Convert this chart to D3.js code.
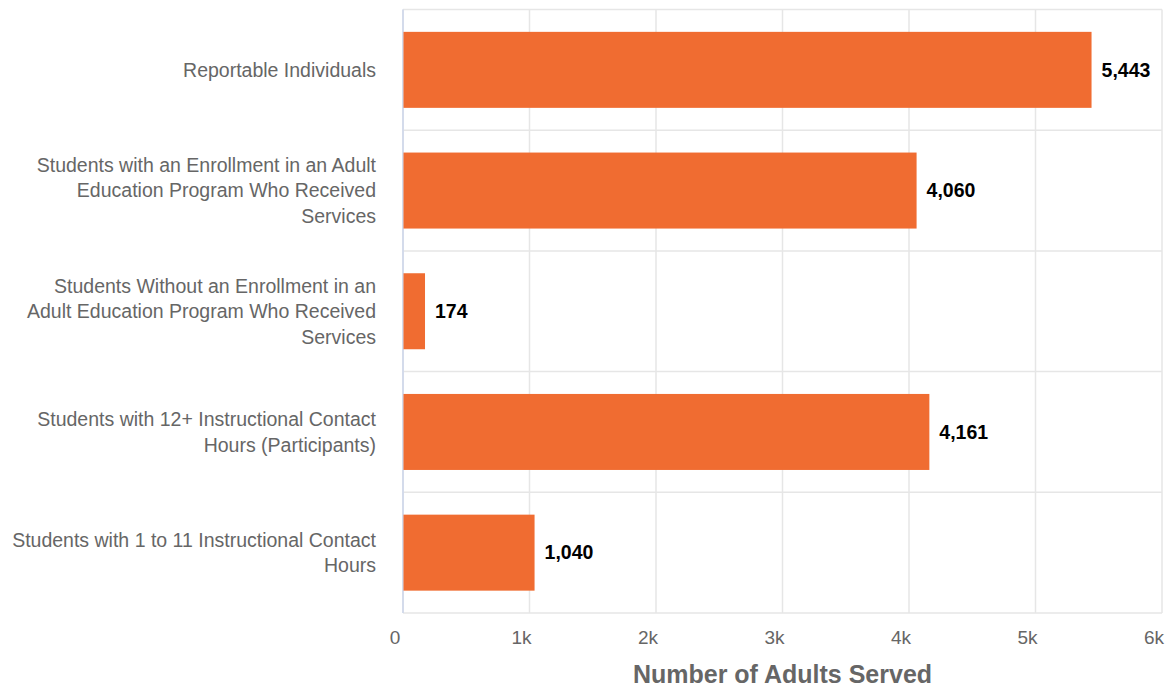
<!DOCTYPE html>
<html>
<head>
<meta charset="utf-8">
<script src="https://cdn.jsdelivr.net/npm/d3@7"></script>
<style>
  body { margin: 0; background: #fff; }
  text { font-family: "Liberation Sans", Arial, Helvetica, sans-serif; }
</style>
</head>
<body>
<div id="chart"></div>
<script>
// data
var categories = [
    "Reportable Individuals",
    "Students with an Enrollment in an Adult\nEducation Program Who Received\nServices",
    "Students Without an Enrollment in an\nAdult Education Program Who Received\nServices",
    "Students with 12+ Instructional Contact\nHours (Participants)",
    "Students with 1 to 11 Instructional Contact\nHours"
];
var values = [5443, 4060, 174, 4161, 1040];
var xTicks = [0, 1000, 2000, 3000, 4000, 5000, 6000];
var xTickLabels = ["0", "1k", "2k", "3k", "4k", "5k", "6k"];
var xTitle = "Number of Adults Served";

var svgWidth = 1166;
var svgHeight = 687;
var margin = { top: 9.5, right: 4, bottom: 74, left: 403 };
var width = svgWidth - margin.left - margin.right;
var height = svgHeight - margin.top - margin.bottom;

var svg = d3.select("#chart").append("svg")
    .attr("width", svgWidth)
    .attr("height", svgHeight);

var chartGroup = svg.append("g")
    .attr("transform", `translate(${margin.left}, ${margin.top})`);

var x = d3.scaleLinear().domain([0, 6000]).range([0, width]);
var y = d3.scaleBand().domain(categories).range([0, height]).paddingInner(0).paddingOuter(0);

//vertical gridlines
chartGroup.selectAll(".vgrid")
    .data(xTicks)
    .enter()
    .append("line")
    .attr("x1", d => x(d))
    .attr("x2", d => x(d))
    .attr("y1", 0)
    .attr("y2", height)
    .attr("stroke", "#e6e6e6")
    .attr("stroke-width", 1.5);

//horizontal category gridlines
var bounds = categories.map(c => y(c)).concat([height]);
chartGroup.selectAll(".hgrid")
    .data(bounds)
    .enter()
    .append("line")
    .attr("x1", 0)
    .attr("x2", width)
    .attr("y1", d => d)
    .attr("y2", d => d)
    .attr("stroke", "#e6e6e6")
    .attr("stroke-width", 1.5);

//left axis line
chartGroup.append("line")
    .attr("x1", 0).attr("x2", 0)
    .attr("y1", 0).attr("y2", height)
    .attr("stroke", "#ccd6eb")
    .attr("stroke-width", 1.5);

//bars
var barH = 76;
chartGroup.selectAll("rect")
    .data(values)
    .enter()
    .append("rect")
    .attr("x", 0.5)
    .attr("y", (d, i) => y(categories[i]) + (y.bandwidth() - barH) / 2)
    .attr("width", d => x(d) - 0.5)
    .attr("height", barH)
    .attr("fill", "#f06c31");

//data labels
chartGroup.selectAll(".dataLabel")
    .data(values)
    .enter()
    .append("text")
    .attr("x", d => x(d) + 10)
    .attr("y", (d, i) => y(categories[i]) + y.bandwidth() / 2)
    .attr("dy", "0.35em")
    .attr("font-size", "19.5px")
    .attr("font-weight", "bold")
    .attr("fill", "#000")
    .text(d => d3.format(",")(d));

//category labels
var lineH = 25.5;
categories.forEach(function(c) {
    var lines = c.split("\n");
    var cy = y(c) + y.bandwidth() / 2;
    var t = chartGroup.append("text")
        .attr("text-anchor", "end")
        .attr("font-size", "19.5px")
        .attr("fill", "#666");
    lines.forEach(function(l, j) {
        t.append("tspan")
            .attr("x", -27)
            .attr("y", cy + (j - (lines.length - 1) / 2) * lineH)
            .attr("dy", "0.35em")
            .text(l);
    });
});

//x tick labels
chartGroup.selectAll(".xLabel")
    .data(xTicks)
    .enter()
    .append("text")
    .attr("x", d => x(d) - 8)
    .attr("y", height + 24)
    .attr("dy", "0.35em")
    .attr("text-anchor", "middle")
    .attr("font-size", "19px")
    .attr("fill", "#666")
    .text((d, i) => xTickLabels[i]);

//x axis title
chartGroup.append("text")
    .attr("x", width / 2)
    .attr("y", height + 61)
    .attr("dy", "0.35em")
    .attr("text-anchor", "middle")
    .attr("font-size", "25px")
    .attr("font-weight", "bold")
    .attr("fill", "#666")
    .text(xTitle);
</script>
</body>
</html>
